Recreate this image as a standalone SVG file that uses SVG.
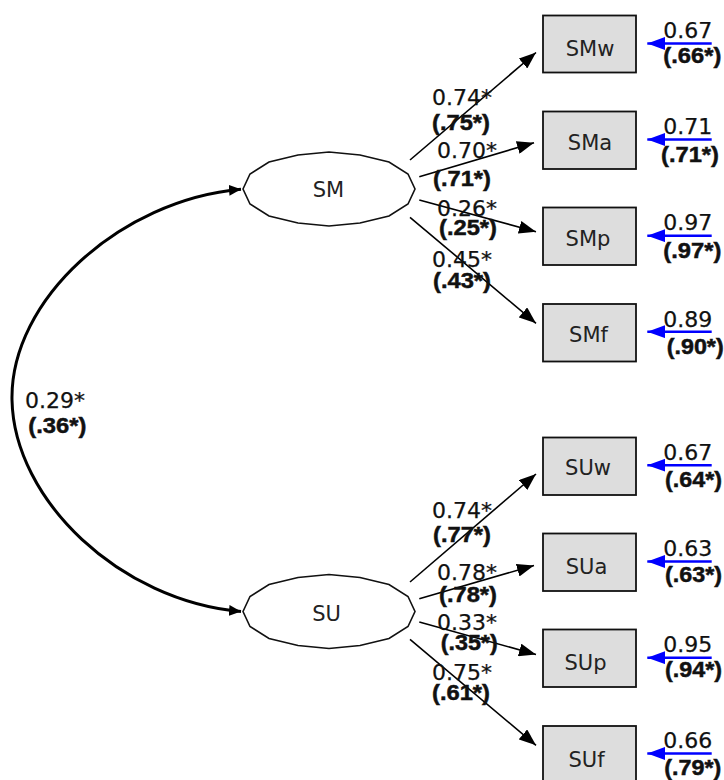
<svg xmlns="http://www.w3.org/2000/svg" width="724" height="780" viewBox="0 0 724 780">
<defs>
<style>
.box{fill:#dddddd;stroke:#111;stroke-width:1.8}
.ell{fill:#fff;stroke:#111;stroke-width:1.6}
.lbl{font-family:"DejaVu Sans",Verdana,sans-serif;font-size:22px;fill:#111;stroke:#111;stroke-width:0.25}
.nl{font-family:"DejaVu Sans",Verdana,sans-serif;font-size:21px;fill:#222;text-anchor:middle}
.b{font-family:"Liberation Sans",Arial,sans-serif;font-size:22.5px;font-weight:bold;fill:#111;stroke:#111;stroke-width:0.5}
.ln{stroke:#000;stroke-width:1.6;fill:none;marker-end:url(#ah)}
.rs{stroke:#0000ff;stroke-width:2.5;fill:none;marker-end:url(#bh)}
.cv{stroke:#000;stroke-width:3;fill:none;marker-start:url(#ch);marker-end:url(#ch)}
</style>
<marker id="ah" markerUnits="userSpaceOnUse" markerWidth="17" markerHeight="13" viewBox="0 0 17 13" refX="17" refY="6.5" orient="auto"><path d="M0,0 L17,6.5 L0,13 z" fill="#000"/></marker>
<marker id="bh" markerUnits="userSpaceOnUse" markerWidth="18" markerHeight="13" viewBox="0 0 18 13" refX="18" refY="6.5" orient="auto"><path d="M0,0 L18,6.5 L0,13 z" fill="#0000ff"/></marker>
<marker id="ch" markerUnits="userSpaceOnUse" markerWidth="12" markerHeight="11" viewBox="0 0 12 11" refX="12" refY="5.5" orient="auto-start-reverse"><path d="M0,0 L12,5.5 L0,11 z" fill="#000"/></marker>
</defs>
<rect width="724" height="780" fill="#fff"/>

<g id="connectors">
<path class="cv" d="M241,189.3 C120,200 10,300 12,400 C14,500 120,601 241,611.5"/>
<line class="ln" x1="410" y1="160" x2="536" y2="52.5"/>
<line class="ln" x1="419.3" y1="176.7" x2="534" y2="142.7"/>
<line class="ln" x1="419.3" y1="200" x2="536" y2="231.7"/>
<line class="ln" x1="410" y1="217.3" x2="536" y2="323.3"/>
<line class="ln" x1="410" y1="582" x2="536" y2="474"/>
<line class="ln" x1="419.3" y1="598.7" x2="534" y2="565.5"/>
<line class="ln" x1="419.3" y1="622" x2="536" y2="654.5"/>
<line class="ln" x1="410" y1="639.3" x2="536" y2="745.3"/>
<line class="rs" x1="711.7" y1="43.5" x2="647.3" y2="43.5"/>
<line class="rs" x1="711.7" y1="139.5" x2="647.3" y2="139.5"/>
<line class="rs" x1="711.7" y1="235.7" x2="647.3" y2="235.7"/>
<line class="rs" x1="711.7" y1="331.7" x2="647.3" y2="331.7"/>
<line class="rs" x1="711.7" y1="465.2" x2="647.3" y2="465.2"/>
<line class="rs" x1="711.7" y1="561.5" x2="647.3" y2="561.5"/>
<line class="rs" x1="711.7" y1="657.7" x2="647.3" y2="657.7"/>
<line class="rs" x1="711.7" y1="753.5" x2="647.3" y2="753.5"/>
</g>

<g id="SM">
<polygon class="ell" transform="translate(329,189)" points="-86,0 -79,-15 -60,-27 -31,-34 0,-37 31,-34 60,-27 79,-15 86,0 79,15 60,27 31,34 0,37 -31,34 -60,27 -79,15"/>
<text class="nl" x="328.5" y="196.5">SM</text>
</g>
<g id="SU">
<polygon class="ell" transform="translate(329,611.5)" points="-86,0 -79,-15 -60,-27 -31,-34 0,-37 31,-34 60,-27 79,-15 86,0 79,15 60,27 31,34 0,37 -31,34 -60,27 -79,15"/>
<text class="nl" x="326.5" y="621">SU</text>
</g>

<g id="SMw"><rect class="box" x="543" y="15.5" width="93" height="57"/><text class="nl" x="590" y="56">SMw</text></g>
<g id="SMa"><rect class="box" x="543" y="111.5" width="93" height="57.5"/><text class="nl" x="590" y="150">SMa</text></g>
<g id="SMp"><rect class="box" x="543" y="207.5" width="93" height="57.5"/><text class="nl" x="588" y="246">SMp</text></g>
<g id="SMf"><rect class="box" x="543" y="304" width="93" height="57.5"/><text class="nl" x="588.5" y="341.5">SMf</text></g>
<g id="SUw"><rect class="box" x="543" y="437.5" width="93" height="57.5"/><text class="nl" x="588" y="475">SUw</text></g>
<g id="SUa"><rect class="box" x="543" y="533.5" width="93" height="57.5"/><text class="nl" x="586.5" y="573.5">SUa</text></g>
<g id="SUp"><rect class="box" x="543" y="629.5" width="93" height="57.5"/><text class="nl" x="585.5" y="669.5">SUp</text></g>
<g id="SUf"><rect class="box" x="543" y="726" width="93" height="57.5"/><text class="nl" x="586.5" y="766.5">SUf</text></g>

<g id="labels">
<text class="lbl" x="25" y="408.3">0.29*</text>
<text class="b" x="28.3" y="433" textLength="58" lengthAdjust="spacingAndGlyphs">(.36*)</text>

<text class="lbl" x="432" y="104.5">0.74*</text>
<text class="b" x="432" y="130" textLength="58" lengthAdjust="spacingAndGlyphs">(.75*)</text>
<text class="lbl" x="437" y="158.3">0.70*</text>
<text class="b" x="433" y="185.5" textLength="58" lengthAdjust="spacingAndGlyphs">(.71*)</text>
<text class="lbl" x="437" y="216">0.26*</text>
<text class="b" x="439" y="235" textLength="58" lengthAdjust="spacingAndGlyphs">(.25*)</text>
<text class="lbl" x="432" y="267.3">0.45*</text>
<text class="b" x="433" y="288" textLength="58" lengthAdjust="spacingAndGlyphs">(.43*)</text>

<text class="lbl" x="432" y="518.3">0.74*</text>
<text class="b" x="433" y="541.7" textLength="58" lengthAdjust="spacingAndGlyphs">(.77*)</text>
<text class="lbl" x="437" y="580">0.78*</text>
<text class="b" x="439" y="601.7" textLength="58" lengthAdjust="spacingAndGlyphs">(.78*)</text>
<text class="lbl" x="437" y="630">0.33*</text>
<text class="b" x="440.7" y="650" textLength="57" lengthAdjust="spacingAndGlyphs">(.35*)</text>
<text class="lbl" x="432" y="680">0.75*</text>
<text class="b" x="432" y="700" textLength="58" lengthAdjust="spacingAndGlyphs">(.61*)</text>

<text class="lbl" x="663.3" y="37.5">0.67</text>
<text class="b" x="663.3" y="62.5" textLength="58" lengthAdjust="spacingAndGlyphs">(.66*)</text>
<text class="lbl" x="663.3" y="134">0.71</text>
<text class="b" x="661" y="161.7" textLength="58" lengthAdjust="spacingAndGlyphs">(.71*)</text>
<text class="lbl" x="663.3" y="230">0.97</text>
<text class="b" x="663.3" y="258.3" textLength="58" lengthAdjust="spacingAndGlyphs">(.97*)</text>
<text class="lbl" x="663.3" y="326.7">0.89</text>
<text class="b" x="666.7" y="354" textLength="57" lengthAdjust="spacingAndGlyphs">(.90*)</text>

<text class="lbl" x="663.3" y="460">0.67</text>
<text class="b" x="665" y="486.7" textLength="57" lengthAdjust="spacingAndGlyphs">(.64*)</text>
<text class="lbl" x="663.3" y="556">0.63</text>
<text class="b" x="665" y="581.7" textLength="57" lengthAdjust="spacingAndGlyphs">(.63*)</text>
<text class="lbl" x="663.3" y="652.3">0.95</text>
<text class="b" x="665" y="676.7" textLength="57" lengthAdjust="spacingAndGlyphs">(.94*)</text>
<text class="lbl" x="663.3" y="748.3">0.66</text>
<text class="b" x="664.3" y="775" textLength="57" lengthAdjust="spacingAndGlyphs">(.79*)</text>
</g>
</svg>
